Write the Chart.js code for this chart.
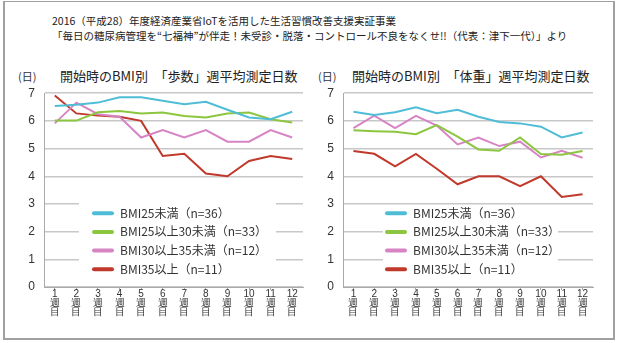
<!DOCTYPE html>
<html>
<head>
<meta charset="utf-8">
<script src="https://cdn.jsdelivr.net/npm/chart.js@4.4.0/dist/chart.umd.min.js"></script>
<style>
  body { margin: 0; background: #fff; font-family: "Noto Sans CJK JP", sans-serif; color: #222; }
  #wrap { position: relative; width: 620px; height: 343px; }
  #frame { position: absolute; left: 3px; top: 1px; width: 608px; height: 336px; border: 2px solid #a0a0a0; border-top-width: 1px; }
  .txt { position: absolute; white-space: nowrap; }
  .head { font-size: 10.5px; left: 52px; line-height: 15px; }
  .ctitle { font-size: 13px; top: 66px; }
  .unit { font-size: 11px; top: 68px; color: #333; }
  canvas { position: absolute; }
</style>
</head>
<body>
<div id="wrap">
  <div id="frame"></div>
  <div class="txt head" style="top:13px">2016（平成28）年度経済産業省IoTを活用した生活習慣改善支援実証事業</div>
  <div class="txt head" style="top:28px">「毎日の糖尿病管理を“七福神”が伴走！未受診・脱落・コントロール不良をなくせ!!（代表：津下一代）」より</div>
  <div class="txt unit" style="left:18px">(日)</div>
  <div class="txt unit" style="left:318px">(日)</div>
  <div class="txt ctitle" style="left:60px">開始時のBMI別　「歩数」週平均測定日数</div>
  <div class="txt ctitle" style="left:352px">開始時のBMI別　「体重」週平均測定日数</div>
  <canvas id="c1" width="300" height="258" style="left:10px;top:77px"></canvas>
  <canvas id="c2" width="290" height="258" style="left:310px;top:77px"></canvas>
</div>
<script>
var weeks = ["1", "2", "3", "4", "5", "6", "7", "8", "9", "10", "11", "12"];
var seriesNames = ["BMI25未満（n=36）", "BMI25以上30未満（n=33）", "BMI30以上35未満（n=12）", "BMI35以上（n=11）"];
var seriesColors = ["#4fbdd6", "#8cc63f", "#d784c4", "#c0392b"];

// 歩数
var stepsUnder25 = [6.54, 6.58, 6.66, 6.85, 6.85, 6.73, 6.60, 6.69, 6.40, 6.12, 6.06, 6.33];
var steps25to30 = [6.01, 6.01, 6.31, 6.36, 6.27, 6.30, 6.18, 6.12, 6.27, 6.30, 6.06, 5.94];
var steps30to35 = [5.91, 6.66, 6.24, 6.15, 5.40, 5.67, 5.40, 5.67, 5.25, 5.25, 5.67, 5.40];
var steps35plus = [6.92, 6.27, 6.19, 6.15, 6.00, 4.73, 4.81, 4.10, 4.00, 4.55, 4.73, 4.62];

// 体重
var weightUnder25 = [6.33, 6.21, 6.31, 6.49, 6.28, 6.40, 6.15, 5.96, 5.91, 5.79, 5.40, 5.58];
var weight25to30 = [5.66, 5.63, 5.61, 5.52, 5.85, 5.43, 4.97, 4.92, 5.40, 4.80, 4.78, 4.91];
var weight30to35 = [5.74, 6.19, 5.74, 6.18, 5.83, 5.15, 5.40, 5.09, 5.25, 4.68, 4.92, 4.67];
var weight35plus = [4.91, 4.81, 4.36, 4.81, 4.27, 3.71, 4.00, 4.00, 3.64, 4.00, 3.25, 3.35];

// legend drawn inside the plot on a white box (settings kept in a closure)
function boxLegend(o) {
  return {
    id: 'boxLegend',
    afterDatasetsDraw: function (chart) {
      var ctx = chart.ctx, a = chart.chartArea;
      ctx.save();
      ctx.beginPath();
      ctx.rect(a.left, a.top, a.right - a.left, a.bottom - a.top);
      ctx.clip();
      ctx.fillStyle = '#fff';
      ctx.fillRect(a.left + o.boxX, a.top + o.boxY, o.boxW, o.boxH);
      ctx.font = '12px "Noto Sans CJK JP", sans-serif';
      ctx.textBaseline = 'middle';
      ctx.textAlign = 'left';
      ctx.lineCap = 'round';
      ctx.lineWidth = 4;
      chart.data.datasets.forEach(function (ds, i) {
        var y = a.top + o.itemY + i * 18.7;
        ctx.strokeStyle = ds.borderColor;
        ctx.beginPath();
        ctx.moveTo(a.left + o.lineX, y);
        ctx.lineTo(a.left + o.lineX + 18, y);
        ctx.stroke();
        ctx.fillStyle = '#333';
        ctx.fillText(ds.label, a.left + o.lineX + 26, y);
      });
      ctx.restore();
    }
  };
}

function makeChart(id, values, yWidth, legendOpts) {
  var datasets = values.map(function (v, i) {
    return {
      label: seriesNames[i],
      data: v,
      borderColor: seriesColors[i],
      backgroundColor: seriesColors[i],
      borderWidth: 2,
      pointRadius: 0,
      tension: 0
    };
  });
  return new Chart(document.getElementById(id), {
    type: 'line',
    data: { labels: weeks.map(function (w) { return [w, "週", "目"]; }), datasets: datasets },
    plugins: [boxLegend(legendOpts)],
    options: {
      responsive: false,
      animation: false,
      layout: { padding: { top: 0, right: 7, bottom: 0, left: 0 } },
      plugins: {
        legend: { display: false },
        tooltip: { enabled: false }
      },
      scales: {
        x: {
          offset: true,
          afterFit: function (s) { s.height = 48; },
          grid: { drawOnChartArea: false, tickLength: 3, color: '#aaa' },
          border: { color: '#aaa' },
          ticks: { color: '#333', font: { size: 10, lineHeight: 0.9 }, maxRotation: 0, padding: 0 }
        },
        y: {
          min: 0, max: 7,
          afterFit: function (s) { s.width = yWidth; },
          grid: { color: '#c8c8c8', lineWidth: 1.5, drawTicks: false },
          border: { color: '#aaa' },
          ticks: { color: '#333', font: { size: 12 }, padding: 9, stepSize: 1 }
        }
      }
    }
  });
}

makeChart('c1', [stepsUnder25, steps25to30, steps30to35, steps35plus], 34,
  { boxX: 35, boxY: 104, boxW: 197, boxH: 84, lineX: 50, itemY: 120 });
makeChart('c2', [weightUnder25, weight25to30, weight30to35, weight35plus], 33,
  { boxX: 40, boxY: 114, boxW: 175, boxH: 74, lineX: 44, itemY: 120 });
</script>
</body>
</html>
